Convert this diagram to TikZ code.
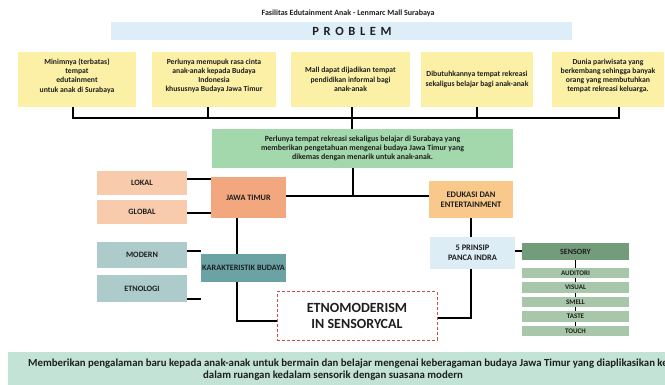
\documentclass[tikz,border=0pt]{standalone}
\usepackage{fontspec}
\setmainfont{Carlito}
\definecolor{probbar}{HTML}{DDEEF8}
\definecolor{yel}{HTML}{FBF0A6}
\definecolor{grn}{HTML}{A3D7AC}
\definecolor{peach}{HTML}{F8CBAD}
\definecolor{salmon}{HTML}{F3A77F}
\definecolor{orng}{HTML}{F9C98C}
\definecolor{ltblue}{HTML}{DCEDF6}
\definecolor{sensd}{HTML}{739C7B}
\definecolor{sensl}{HTML}{A8C6A9}
\definecolor{tealb}{HTML}{6BA3A5}
\definecolor{greyteal}{HTML}{AECBCC}
\definecolor{mint}{HTML}{C2E3D6}
\definecolor{dashred}{HTML}{C0504D}
\definecolor{ink}{HTML}{1E1E1E}
\begin{document}
\begin{tikzpicture}[x=1pt,y=-1pt,
  box/.style={inner sep=0pt, align=center, text=ink, font=\bfseries\fontsize{7.7}{9.2}\selectfont},
  capbox/.style={box, font=\bfseries\fontsize{8.2}{10}\selectfont},
  subbox/.style={box, fill=sensl, minimum width=107, minimum height=10.5, font=\bfseries\fontsize{7}{7}\selectfont},
  conn/.style={line width=2pt, black},
  thinconn/.style={line width=1.4pt, black}]
\useasboundingbox (0,0) rectangle (665,385);
\fill[white] (0,0) rectangle (665,385);
\clip (0,0) rectangle (665,385);

% title
\node[box, font=\bfseries\fontsize{8}{9}\selectfont] (title) at (348,13.5) {Fasilitas Edutainment Anak - Lenmarc Mall Surabaya};
% problem bar
\node[box, fill=probbar, minimum width=461, minimum height=18] (pbar) at (341.5,31) {};
\node[box, font=\bfseries\fontsize{12.5}{14}\selectfont] (ptext) at (352,31.5) {P\hspace{4.6pt}R\hspace{4.6pt}O\hspace{4.6pt}B\hspace{4.6pt}L\hspace{4.6pt}E\hspace{4.6pt}M};

% problem boxes
\node[box, fill=yel, minimum width=118, minimum height=55] (p1) at (77,79.5) {};
\node[box] (p1t) at (77,76) {Minimnya (terbatas)\\tempat\\edutainment\\untuk anak di Surabaya};
\node[box, fill=yel, minimum width=124, minimum height=55] (p2) at (214,79.5) {};
\node[box] (p2t) at (214,76) {Perlunya memupuk rasa cinta\\anak-anak kepada Budaya\\Indonesia\\khususnya Budaya Jawa Timur};
\node[box, fill=yel, minimum width=119, minimum height=55] (p3) at (350.5,79.5) {Mall dapat dijadikan tempat\\pendidikan informal bagi\\anak-anak};
\node[box, fill=yel, minimum width=112, minimum height=55] (p4) at (477,79.5) {Dibutuhkannya tempat rekreasi\\sekaligus belajar bagi anak-anak};
\node[box, fill=yel, minimum width=112, minimum height=55] (p5) at (608,79.5) {};
\node[box] (p5t) at (608,76) {Dunia pariwisata yang\\berkembang sehingga banyak\\orang yang membutuhkan\\tempat rekreasi keluarga.};

% green box
\node[box, fill=grn, minimum width=301, minimum height=39, font=\bfseries\fontsize{7.9}{8.8}\selectfont] (g) at (362.5,148.5) {Perlunya tempat rekreasi sekaligus belajar di Surabaya yang\\memberikan pengetahuan mengenai budaya Jawa Timur yang\\dikemas dengan menarik untuk anak-anak.};

% left group
\node[capbox, fill=salmon, minimum width=75, minimum height=41] (jt) at (248.5,197.5) {JAWA TIMUR};
\node[capbox, fill=peach, minimum width=90, minimum height=24] (lok) at (142,183) {LOKAL};
\node[capbox, fill=peach, minimum width=90, minimum height=24] (glo) at (142,212) {GLOBAL};
\node[capbox, fill=tealb, minimum width=85, minimum height=28] (kb) at (243.5,268) {KARAKTERISTIK BUDAYA};
\node[capbox, fill=greyteal, minimum width=90, minimum height=26] (mo) at (142,255) {MODERN};
\node[capbox, fill=greyteal, minimum width=90, minimum height=27] (en) at (142,288.5) {ETNOLOGI};

% right group
\node[capbox, fill=orng, minimum width=84, minimum height=37, font=\bfseries\fontsize{8.5}{10.5}\selectfont] (ed) at (471,199.5) {EDUKASI DAN\\ENTERTAINMENT};
\node[capbox, fill=ltblue, minimum width=85, minimum height=32, font=\bfseries\fontsize{8.4}{10.2}\selectfont] (pi) at (472.5,253) {5 PRINSIP\\PANCA INDRA};
\node[capbox, fill=sensd, minimum width=107, minimum height=17, font=\bfseries\fontsize{8}{9}\selectfont] (se) at (575.5,251.5) {SENSORY};
\node[subbox] (s1) at (575.5,273) {AUDITORI};
\node[subbox] (s2) at (575.5,287.5) {VISUAL};
\node[subbox] (s3) at (575.5,302) {SMELL};
\node[subbox] (s4) at (575.5,316.5) {TASTE};
\node[subbox] (s5) at (575.5,331) {TOUCH};

% center
\node[box, draw=dashred, dashed, line width=1pt, dash pattern=on 3pt off 2pt, fill=white, minimum width=160, minimum height=48, font=\bfseries\fontsize{14}{16}\selectfont] (et) at (357,316) {ETNOMODERISM\\IN SENSORYCAL};

% bottom box
\node[box, fill=mint, minimum width=712, minimum height=48, anchor=north west] (bot) at (8,352) {};
\node[box, anchor=west, font=\bfseries\fontsize{10.8}{12}\selectfont] (bot1) at (28,364) {Memberikan pengalaman baru kepada anak-anak untuk bermain dan belajar mengenai keberagaman budaya Jawa Timur yang diaplikasikan ke};
\node[box, font=\bfseries\fontsize{10.8}{12}\selectfont] (bot2) at (333,376) {dalam ruangan kedalam sensorik dengan suasana modern};

% connectors: problem bus
\coordinate (bus) at (0,118);
\draw[conn] ([xshift=-4]p1.south) |- ([xshift=11]p5.south |- bus) -- ([xshift=11]p5.south);
\draw[conn] ([xshift=-6]p2.south) -- ([xshift=-6]p2.south |- bus);
\draw[conn] ([xshift=1.5]p3.south) -- ([xshift=1.5]p3.south |- g.north);
\draw[conn] (p4.south) -- (p4.south |- bus);

% green to jt / ed
\coordinate (mid) at (353,196);
\draw[conn] (g.south -| mid) -- (mid);
\draw[conn] (jt.east |- mid) -- (ed.west |- mid);

% lokal/global
\draw[conn] ([yshift=3.5]lok.east) -- ([yshift=3.5]lok.east -| jt.west);
\draw[conn] ([yshift=-1]glo.east) -- ([yshift=-1]glo.east -| jt.west);

% jt to kb
\draw[conn] ([xshift=-11.5]jt.south) -- ([xshift=-11.5]jt.south |- kb.north);
\draw[conn] ([yshift=4]mo.east) -- ([yshift=4]mo.east -| kb.west);
\draw[conn] ([yshift=-10.5]en.east) -- ([yshift=-10.5]en.east -| kb.west);
\draw[conn] ([xshift=-6.5]kb.south) |- ([yshift=-5]et.west);

% right
\draw[conn] (ed.south) -- (ed.south |- pi.north);
\draw[conn] ([xshift=-1.5]pi.south) |- ([yshift=-2.5]et.east);
\draw[conn] (se.west -| pi.east) -- (se.west);
\draw[thinconn] (se.south) -- (s1.north);
\draw[thinconn] (s1.south) -- (s2.north);
\draw[thinconn] (s2.south) -- (s3.north);
\draw[thinconn] (s3.south) -- (s4.north);
\draw[thinconn] (s4.south) -- (s5.north);
\end{tikzpicture}
\end{document}
